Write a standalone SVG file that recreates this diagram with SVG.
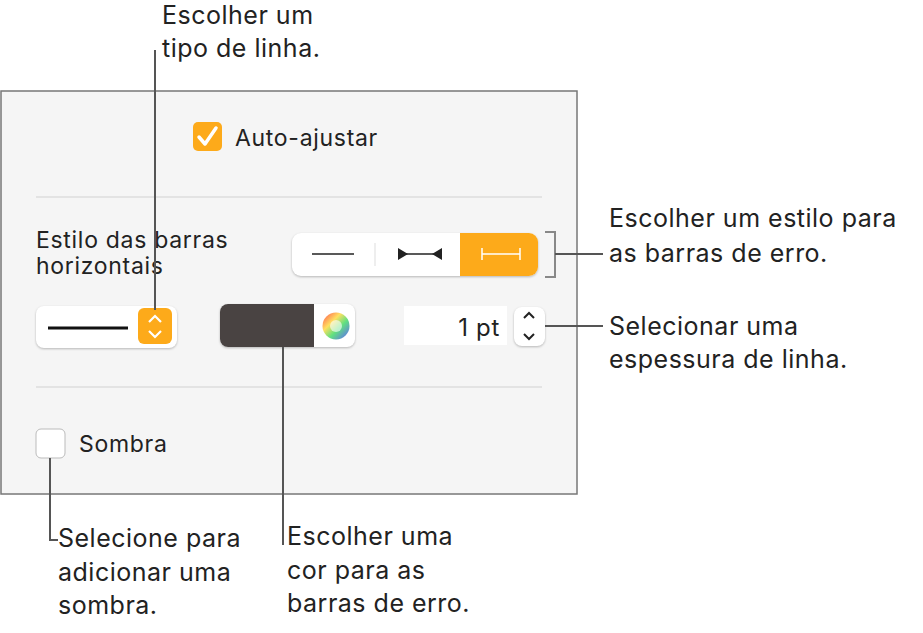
<svg xmlns="http://www.w3.org/2000/svg" width="923" height="633" viewBox="0 0 923 633">
<style>
text{font-family:"Inter","Helvetica Neue","Liberation Sans",sans-serif;fill:#222}
.c{font-size:25px;letter-spacing:0.5px}
.p{font-size:23px;letter-spacing:0.7px}
.ln{stroke:#555;stroke-width:2;fill:none}
.ctl{fill:#fff;filter:drop-shadow(0 1px 1px rgba(0,0,0,0.25))}
</style>
<rect width="923" height="633" fill="#fff"/>
<g id="panel">
<rect x="1" y="91" width="576" height="403" fill="#f5f5f5" stroke="#777" stroke-width="1.5"/>
<line x1="36" y1="197" x2="542" y2="197" stroke="#ddd" stroke-width="1.5"/>
<line x1="36" y1="387" x2="542" y2="387" stroke="#ddd" stroke-width="1.5"/>
</g>
<g id="auto">
<rect x="193" y="122" width="29" height="29" rx="5" fill="#fdaa1a"/>
<path d="M199 137 l6 7 l11 -16" stroke="#fff" stroke-width="3.5" fill="none" stroke-linecap="round" stroke-linejoin="round"/>
<text x="235" y="146" class="p">Auto-ajustar</text>
</g>
<g id="estilo">
<text x="36" y="248" class="p">Estilo das barras</text>
<text x="36" y="274" class="p">horizontais</text>
<rect x="292" y="233" width="246" height="43" rx="9" class="ctl"/>
<path d="M460 233 h69 a9 9 0 0 1 9 9 v25 a9 9 0 0 1 -9 9 h-69 z" fill="#fdaa1a"/>
<line x1="312" y1="254" x2="354" y2="254" stroke="#222" stroke-width="1.5"/>
<line x1="375" y1="243" x2="375" y2="266" stroke="#ddd" stroke-width="1"/>
<line x1="400" y1="254" x2="440" y2="254" stroke="#222" stroke-width="1.5"/>
<path d="M398 248 l10 6 l-10 6 z M442 248 l-10 6 l10 6 z" fill="#222"/>
<path d="M482 248 v12 M520 248 v12 M482 254 h38" stroke="#fff" stroke-width="1.5"/>
</g>
<g id="linetype">
<rect x="36" y="306" width="141" height="42" rx="8" class="ctl"/>
<line x1="48" y1="328" x2="128" y2="328" stroke="#111" stroke-width="3"/>
<rect x="138" y="308" width="34" height="36" rx="6" fill="#fdaa1a"/>
<path d="M149 322 l6 -6 l6 6 M149 331 l6 6 l6 -6" stroke="#fff" stroke-width="2.2" fill="none"/>
</g>
<g id="color">
<rect x="220" y="304" width="135" height="43" rx="8" class="ctl"/>
<path d="M228 304 h86 v43 h-86 a8 8 0 0 1 -8 -8 v-27 a8 8 0 0 1 8 -8 z" fill="#494342"/>
<defs><linearGradient id="cw" x1="0" y1="0" x2="1" y2="1"><stop offset="0" stop-color="#ff5050"/><stop offset="0.35" stop-color="#ffe060"/><stop offset="0.6" stop-color="#60e080"/><stop offset="1" stop-color="#6060ff"/></linearGradient></defs>
<circle cx="336" cy="326" r="13.5" fill="url(#cw)"/>
<circle cx="336" cy="326" r="6" fill="#fff" opacity="0.6"/>
</g>
<g id="thickness">
<rect x="404" y="306" width="103" height="39" fill="#fff"/>
<text x="500" y="336" class="p" text-anchor="end" style="font-size:24px">1 pt</text>
<rect x="514" y="307" width="31" height="39" rx="8" class="ctl"/>
<path d="M524 318 l5 -5 l5 5 M524 334 l5 5 l5 -5" stroke="#222" stroke-width="2" fill="none"/>
</g>
<g id="sombra">
<rect x="36" y="429" width="29" height="29" rx="5" fill="#fff" stroke="#bbb"/>
<text x="79" y="452" class="p">Sombra</text>
</g>
<g id="connectors">
<path class="ln" d="M155 50 V310"/>
<path d="M545 232 h10 v45 h-10" stroke="#888" stroke-width="2" fill="none"/>
<path class="ln" d="M555 254 H603"/>
<path class="ln" d="M545 326 H603"/>
<path class="ln" d="M283 347 V545"/>
<path class="ln" d="M50 458 V540 H58"/>
</g>
<g id="labels">
<text x="162" y="24" class="c">Escolher um</text>
<text x="162" y="57" class="c">tipo de linha.</text>
<text x="609" y="227" class="c">Escolher um estilo para</text>
<text x="609" y="262" class="c">as barras de erro.</text>
<text x="609" y="335" class="c">Selecionar uma</text>
<text x="609" y="368" class="c">espessura de linha.</text>
<text x="58" y="547" class="c">Selecione para</text>
<text x="58" y="581" class="c">adicionar uma</text>
<text x="58" y="614" class="c">sombra.</text>
<text x="287" y="545" class="c">Escolher uma</text>
<text x="287" y="579" class="c">cor para as</text>
<text x="287" y="612" class="c">barras de erro.</text>
</g>
</svg>
